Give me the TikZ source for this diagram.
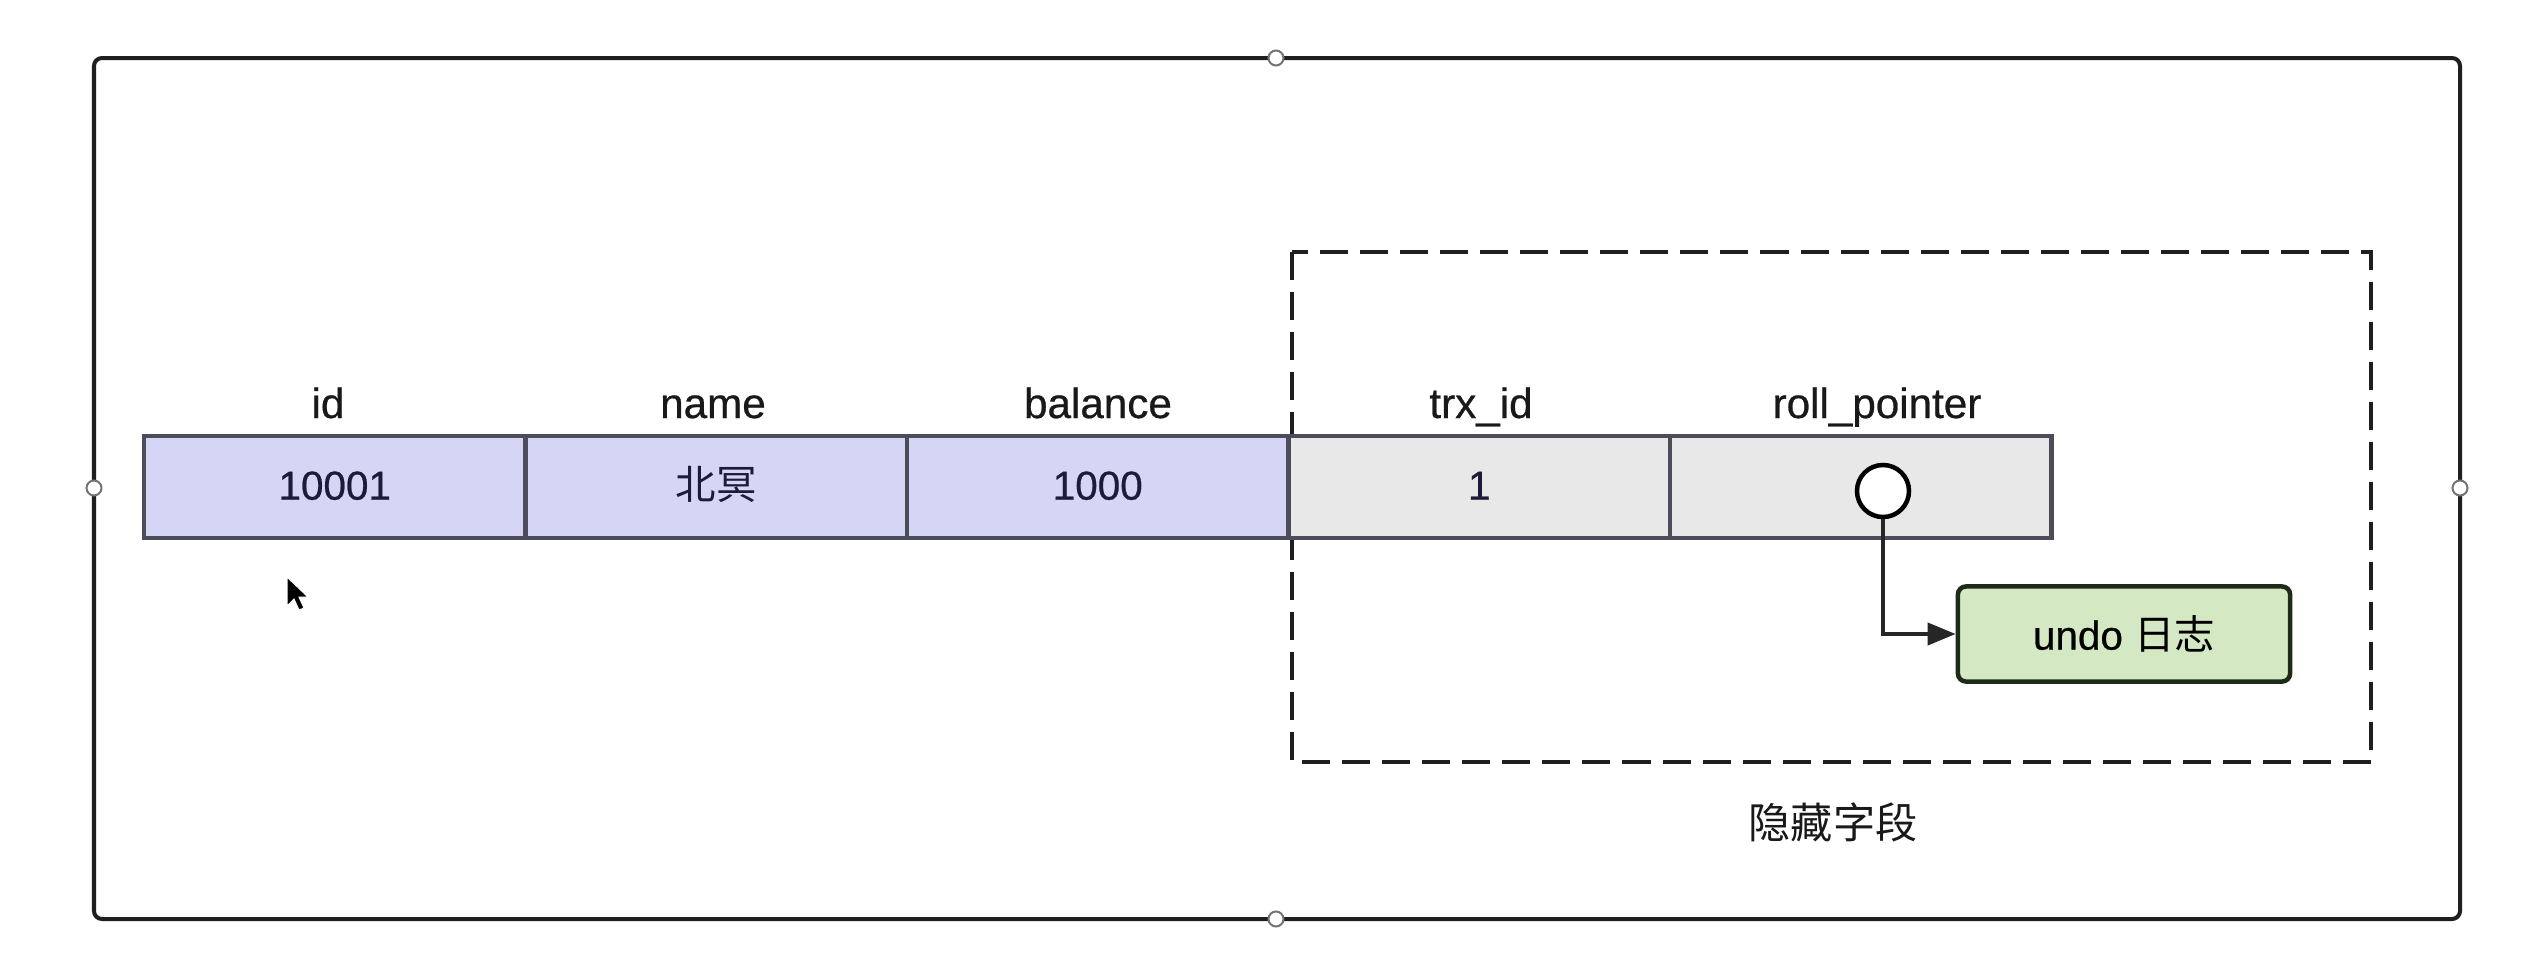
\documentclass[tikz,border=0pt]{standalone}
\usepackage{fontspec}
\setmainfont{Liberation Sans}[FakeBold=0.6]
\newfontfamily\cjk{Noto Sans CJK SC}
\usetikzlibrary{arrows.meta}
\definecolor{cellblue}{HTML}{D5D5F5}
\definecolor{cellgray}{HTML}{E8E8E8}
\definecolor{cellline}{HTML}{4C4C5A}
\definecolor{valtext}{HTML}{1C1C3A}
\definecolor{undofill}{HTML}{D5E8C4}
\definecolor{undoline}{HTML}{1E2A1A}
\tikzset{
  cell/.style={draw=cellline, line width=0.045cm, minimum width=3.815cm, minimum height=1.02cm, inner sep=0pt, text height=0.72em, text depth=0em, font=\fontsize{11.5}{13}\selectfont, text=valtext},
  bluecell/.style={cell, fill=cellblue},
  graycell/.style={cell, fill=cellgray},
  header/.style={font=\fontsize{12}{14}\selectfont, text=black!90, inner sep=0pt, anchor=base},
  handle/.style={circle, draw=black!55, fill=white, line width=0.02cm, minimum size=0.15cm, inner sep=0pt},
  frame/.style={draw=black!88, line width=0.04cm, rounded corners=0.08cm},
  hidden/.style={draw=black!88, line width=0.045cm, dash pattern=on 0.28cm off 0.12cm},
  undobox/.style={draw=undoline, fill=undofill, line width=0.045cm, rounded corners=0.08cm, minimum width=3.32cm, minimum height=0.95cm, font=\fontsize{11.5}{13}\selectfont},
  ptr/.style={circle, draw=black, fill=white, line width=0.045cm, minimum size=0.52cm, inner sep=0pt},
  link/.style={draw=black!85, line width=0.04cm, -{Triangle[length=0.28cm,width=0.22cm]}}
}
\begin{document}
\begin{tikzpicture}[x=0.01cm, y=-0.01cm]
\useasboundingbox[fill=white] (0,0) rectangle (2532,954);
% outer frame
\draw[frame] (94,58) rectangle (2460,919);
\node[handle] (hT) at (1276,58) {};
\node[handle] (hB) at (1276,919) {};
\node[handle] (hL) at (94,488) {};
\node[handle] (hR) at (2460,488) {};
% hidden fields box
\draw[hidden] (1292,252) rectangle (2371,762);
% cells
\node[bluecell] (c1) at (334.75,487) {10001};
\node[bluecell] (c2) at (716.25,487) {{\cjk 北冥}};
\node[bluecell] (c3) at (1097.75,487) {1000};
\node[graycell] (c4) at (1479.25,487) {1};
\node[graycell] (c5) at (1860.75,487) {};
% headers
\node[header] (h1) at (328,418) {id};
\node[header] (h2) at (713,418) {name};
\node[header] (h3) at (1098,418) {balance};
\node[header] (h4) at (1481,418) {trx\_id};
\node[header] (h5) at (1877,418) {roll\_pointer};
% pointer
\node[ptr] (p) at (1883,491) {};
\node[undobox] (undo) at (2124,634) {undo {\cjk 日志}};
\draw[link] (p.south) |- (undo.west);
% caption
\node[font=\cjk\fontsize{12}{14}\selectfont, text=black!90] (cap) at (1833,822) {隐藏字段};
% mouse cursor
\filldraw[fill=black, draw=white, line width=0.01cm] (287,577) -- (287,606) -- (294,599) -- (299,610) -- (304,608) -- (299,597) -- (308,597) -- cycle;
\end{tikzpicture}
\end{document}
